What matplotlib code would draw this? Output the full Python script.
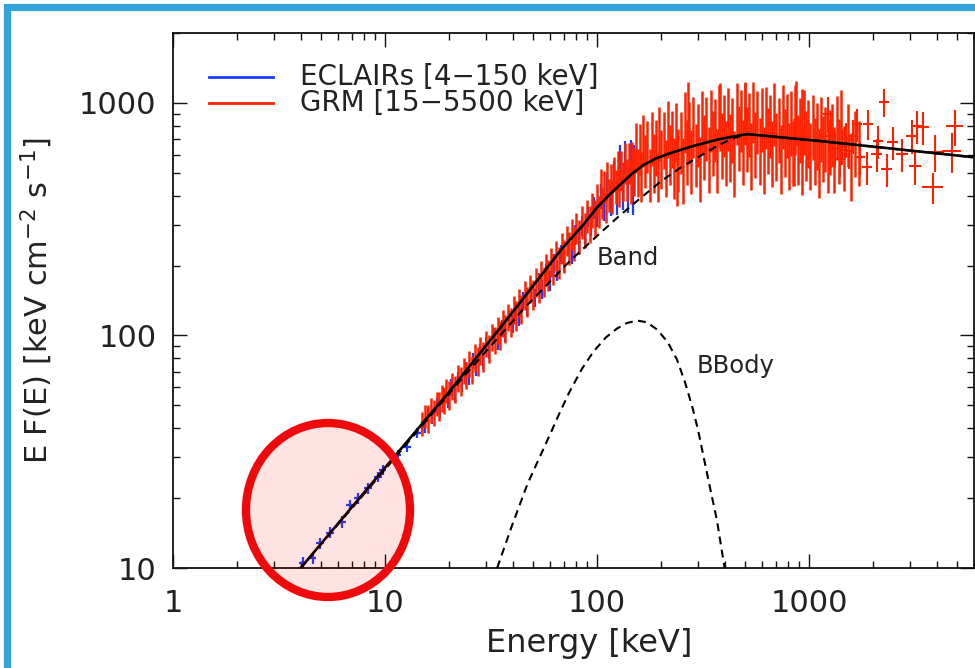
import matplotlib.pyplot as plt
from matplotlib.patches import Ellipse, Rectangle
from matplotlib.ticker import LogLocator, NullFormatter

plt.rcParams['font.family'] = ['DejaVu Sans']
plt.rcParams['mathtext.default'] = 'regular'

# ECLAIRs data (energy keV, EF(E), error)
ecl_e = [4.1, 4.57, 4.94, 5.5, 6.27, 6.84, 7.46, 8.32, 9.27, 9.77, 11.5, 12.7, 14.2, 15.0,
         15.5, 16, 16.7, 17.5, 18.2, 19, 19.8, 20.5, 21.3, 22, 23, 24, 25, 26, 27, 28, 29,
         30, 31, 32.5, 34, 35.5, 37, 38.5, 40, 41.5, 43, 45, 47, 49, 51, 53, 55, 57.5, 60,
         62.5, 65, 67.5, 70, 73, 76, 79, 82, 85, 88, 91, 94, 97, 100, 104, 108, 112, 116,
         120, 124, 128, 132, 136, 140, 144, 148, 150]
ecl_f = [10.5, 11.0, 12.8, 14.2, 15.8, 18.7, 20.0, 22.1, 24.7, 26.4, 30.7, 33.2, 38.1, 40.5,
         41, 46, 45, 50, 48, 55, 53, 60, 57, 65, 62, 71, 67, 78, 73, 85, 79,
         92, 86, 100, 95, 108, 103, 118, 112, 129, 121, 142, 133, 156, 146, 170, 158, 186, 172,
         205, 190, 225, 208, 248, 228, 272, 250, 298, 272, 325, 300, 355, 330, 400, 360, 440, 385,
         490, 400, 560, 420, 590, 410, 600, 400, 560]
ecl_err = [0.6, 0.6, 0.7, 0.8, 0.9, 1.0, 1.1, 1.2, 1.3, 1.4, 1.6, 1.8, 2, 2.2,
           3, 3.5, 3.5, 4, 4, 4, 4, 5, 5, 5, 5, 6, 6, 6, 6, 7, 7,
           7, 7, 8, 8, 9, 9, 10, 10, 11, 11, 12, 12, 13, 13, 15, 15, 17, 17,
           19, 19, 21, 21, 24, 24, 27, 27, 30, 30, 33, 33, 38, 38, 50, 50, 60, 60,
           75, 70, 100, 75, 95, 75, 90, 70, 100]
ecl_xerr = [0.16, 0.18, 0.2, 0.22, 0.25, 0.27, 0.3, 0.33, 0.37, 0.39, 0.46, 0.5, 0.57, 0.6,
            0, 0, 0, 0, 0, 0, 0, 0, 0, 0, 0, 0, 0, 0, 0, 0, 0,
            0, 0, 0, 0, 0, 0, 0, 0, 0, 0, 0, 0, 0, 0, 0, 0, 0, 0,
            0, 0, 0, 0, 0, 0, 0, 0, 0, 0, 0, 0, 0, 0, 0, 0, 0, 0,
            0, 0, 0, 0, 0, 0, 0, 0, 0]

# GRM data, dense part
grm_e = [15, 15.5, 16, 16.5, 17, 17.5, 18, 18.5, 19, 19.5, 20, 20.7, 21.4, 22.1, 22.8,
         23.5, 24.2, 25, 25.8, 26.6, 27.4, 28.2, 29, 30, 31, 32, 33, 34, 35, 36, 37, 38,
         39.2, 40.4, 41.6, 42.8, 44, 45.5, 47, 48.5, 50, 51.5, 53, 54.5, 56, 57.5, 59, 60.5,
         62, 64, 66, 68, 70, 72, 74, 76, 78, 80, 82.5, 85, 87.5, 90, 92.5, 95, 97.5,
         100, 102, 104, 106, 108, 110, 112, 114, 116, 118, 120, 122.5, 125, 127.5, 130, 132.5,
         135, 138, 141, 144, 147, 150, 153, 156, 159, 162, 165, 169, 173, 177, 181, 185, 189,
         193, 197, 201, 206, 211, 216, 221, 226, 231, 236, 238, 242, 248, 254, 260, 266, 269,
         272, 278, 285, 292, 299, 306, 313, 320, 328, 336, 344, 352, 360, 369, 378, 380, 387,
         396, 405, 415, 425, 435, 445, 455, 466, 477, 488, 499, 500, 510, 522, 534, 546, 558,
         571, 584, 597, 611, 625, 640, 655, 670, 686, 702, 718, 735, 752, 770, 788, 806, 825,
         840, 845, 860, 865, 885, 905, 926, 930, 948, 970, 993, 1016, 1040, 1065, 1090, 1115,
         1140, 1167, 1195, 1223, 1250, 1280, 1310, 1350, 1390, 1420, 1460, 1520, 1580, 1650,
         1720]
grm_f = [42, 45, 44, 48, 47, 51, 50, 54, 53, 58, 56, 61, 59, 66, 64,
         71, 68, 76, 72, 81, 78, 87, 82, 93, 88, 99, 96, 106, 101, 114, 108, 121,
         115, 130, 123, 139, 131, 150, 141, 160, 151, 171, 162, 183, 172, 196, 183, 208,
         195, 222, 208, 240, 222, 258, 240, 275, 252, 292, 270, 310, 288, 330, 305, 350, 322,
         390, 344, 443, 376, 440, 359, 480, 404, 470, 397, 500, 441, 520, 438, 520, 470,
         560, 477, 560, 467, 560, 520, 660, 515, 649, 496, 710, 579, 668, 506, 727, 572, 664,
         495, 764, 595, 719, 543, 801, 623, 726, 545, 778, 560, 595, 706, 539, 861, 642, 900,
         775, 585, 818, 625, 761, 545, 868, 675, 814, 599, 877, 703, 797, 592, 924, 920, 689,
         833, 638, 890, 679, 803, 575, 939, 740, 874, 643, 940, 950, 735, 844, 623, 952, 694,
         861, 656, 887, 595, 905, 723, 830, 634, 936, 682, 802, 608, 913, 711, 838, 623, 861,
         640, 648, 900, 948, 665, 804, 592, 850, 870, 694, 775, 622, 827, 654, 755, 581,
         806, 667, 734, 611, 712, 760, 600, 820, 650, 880, 610, 760, 560, 700,
         640]
grm_err = [5, 5, 6, 6, 6, 6, 7, 7, 7, 7, 8, 8, 8, 9, 9,
           9, 9, 10, 10, 11, 11, 12, 12, 12, 12, 13, 13, 14, 14, 15, 15, 16,
           16, 18, 18, 19, 19, 21, 21, 22, 22, 24, 24, 26, 26, 28, 28, 30,
           30, 33, 33, 36, 36, 39, 39, 42, 42, 45, 45, 50, 50, 54, 54, 60, 60,
           60, 55, 75, 60, 70, 55, 80, 65, 75, 65, 85, 75, 100, 80, 100, 90,
           110, 100, 110, 100, 120, 120, 160, 120, 160, 120, 180, 150, 170, 130, 190, 160, 180,
           120, 200, 170, 200, 150, 220, 180, 200, 160, 220, 200, 180, 210, 170, 250, 200, 330,
           230, 180, 240, 190, 230, 170, 260, 210, 250, 190, 260, 220, 240, 180, 270, 300, 220,
           250, 200, 270, 220, 250, 180, 280, 230, 260, 200, 280, 280, 230, 260, 200, 280, 220,
           260, 210, 270, 190, 270, 230, 250, 200, 280, 220, 250, 200, 280, 230, 260, 200, 270,
           200, 210, 300, 290, 220, 250, 190, 300, 270, 230, 250, 200, 260, 210, 240, 190,
           250, 210, 230, 200, 220, 230, 190, 250, 200, 260, 190, 230, 180, 220,
           200]

# GRM data, sparse high-energy crosses (with energy half-widths)
hi_e = [1230, 1257, 1330, 1400, 1430, 1500, 1550, 1610, 1680, 1740, 1880, 1900, 2090, 2115,
        2260, 2330, 2490, 2750, 3060, 3160, 3230, 3450, 3850, 3930, 4730, 4880]
hi_f = [900, 721, 640, 574, 653, 700, 620, 721, 811, 585, 530, 811, 603, 686,
        1010, 520, 679, 603, 721, 535, 796, 787, 434, 615, 621, 796]
hi_ferr = [160, 120, 110, 95, 110, 120, 100, 120, 130, 95, 85, 120, 100, 110,
           140, 85, 110, 100, 120, 90, 130, 130, 65, 110, 120, 140]
hi_eerr = [60, 65, 70, 75, 75, 80, 80, 85, 90, 95, 100, 110, 120, 120,
           130, 140, 150, 170, 190, 200, 210, 230, 450, 420, 500, 450]

# Models
tot_e = [4, 10, 20, 40, 68, 85, 100, 115, 130, 147, 165, 190, 220, 250, 284, 330, 380,
         440, 510, 1127, 5900]
tot_f = [10, 27, 57, 126, 235, 295, 355, 405, 450, 498, 540, 578, 607, 630, 653, 677, 700,
         718, 735, 686, 585]
band_e = [4, 10, 22.6, 45, 74, 100, 125, 154, 200, 250, 300, 368, 430, 510, 1127, 5900]
band_f = [10, 26.5, 64, 130, 208, 268, 322, 378, 460, 530, 585, 653, 700, 735, 686, 585]
bb_e = [33.8, 40, 47, 55, 60, 67, 74, 85, 96, 110, 124, 138, 154, 172, 192, 215, 238,
        260, 282, 300, 316, 340, 368, 390, 400]
bb_f = [10, 15.5, 23, 31.5, 37.5, 47, 57, 72, 85, 98, 107, 113, 116, 114, 106, 94, 79,
        63, 49, 39, 31, 22.5, 16, 11.5, 10]

BLUE = '#1f3bff'
RED = '#ff2200'
TXT = '#222222'

fig = plt.figure(figsize=(9.75, 6.68), dpi=100)
ax = fig.add_axes([173 / 975, 1 - 568 / 668, 801 / 975, 535 / 668])

ax.errorbar(ecl_e, ecl_f, yerr=ecl_err, xerr=ecl_xerr, fmt='none', ecolor=BLUE,
            elinewidth=1.6, zorder=2)
ax.errorbar(grm_e, grm_f, yerr=grm_err, fmt='none', ecolor=RED, elinewidth=1.8, zorder=3)
ax.errorbar(hi_e, hi_f, yerr=hi_ferr, xerr=hi_eerr, fmt='none', ecolor=RED,
            elinewidth=1.5, zorder=3)

ax.plot(band_e, band_f, color='black', lw=1.5, ls=(0, (3.8, 2.6)), zorder=4)
ax.plot(bb_e, bb_f, color='black', lw=1.5, ls=(0, (3.8, 2.6)), zorder=4)
ax.plot(tot_e, tot_f, color='black', lw=1.9, zorder=5)

ax.set_xscale('log')
ax.set_yscale('log')
ax.set_xlim(1, 6000)
ax.set_ylim(10, 2000)
ax.set_xticks([1, 10, 100, 1000], ['1', '10', '100', '1000'])
ax.set_yticks([10, 100, 1000], ['10', '100', '1000'])
ax.xaxis.set_minor_locator(LogLocator(base=10, subs=range(2, 10)))
ax.yaxis.set_minor_locator(LogLocator(base=10, subs=range(2, 10)))
ax.xaxis.set_minor_formatter(NullFormatter())
ax.yaxis.set_minor_formatter(NullFormatter())
ax.tick_params(which='both', direction='in', top=True, right=True, colors='#111111',
               labelcolor=TXT, labelsize=22)
ax.tick_params(which='major', length=10, width=1.0)
ax.tick_params(which='minor', length=5, width=1.0)
ax.tick_params(axis='x', pad=15)
ax.tick_params(axis='y', pad=12)
for s in ax.spines.values():
    s.set_linewidth(1.3)
    s.set_color('#111111')

ax.set_xlabel('Energy [keV]', fontsize=23, color=TXT)
ax.xaxis.set_label_coords(0.52, -0.112)
ax.set_ylabel('E F(E) [keV cm$^{-2}$ s$^{-1}$]', fontsize=22, color=TXT)
ax.yaxis.set_label_coords(-0.147, 0.5)

# legend
ax.plot([0.045, 0.125], [0.918, 0.918], color=BLUE, lw=2, transform=ax.transAxes)
ax.plot([0.045, 0.125], [0.869, 0.869], color=RED, lw=2, transform=ax.transAxes)
ax.text(0.1585, 0.918, 'ECLAIRs [4\u2212150 keV]', transform=ax.transAxes, fontsize=20,
        va='center', ha='left', color=TXT)
ax.text(0.1585, 0.869, 'GRM [15\u22125500 keV]', transform=ax.transAxes, fontsize=20,
        va='center', ha='left', color=TXT)

ax.text(100, 215, 'Band', fontsize=17.5, va='center', ha='left', color=TXT)
ax.text(296, 74, 'BBody', fontsize=17.5, va='center', ha='left', color=TXT)

# highlight circle and screenshot frame
circ = Ellipse((328 / 975, 1 - 510 / 668), 2 * 82 / 975, 2 * 87 / 668,
               transform=fig.transFigure, facecolor=(1, 0, 0, 0.11),
               edgecolor='#ee0a0a', lw=6, zorder=10)
fig.add_artist(circ)
frame = Rectangle((6.5 / 975, -0.1), 1.2, 1 - 6.5 / 668 + 0.1, transform=fig.transFigure,
                  fill=False, edgecolor='#33a5db', lw=5.2, zorder=11)
fig.add_artist(frame)

fig.savefig('out.png', dpi=100)
